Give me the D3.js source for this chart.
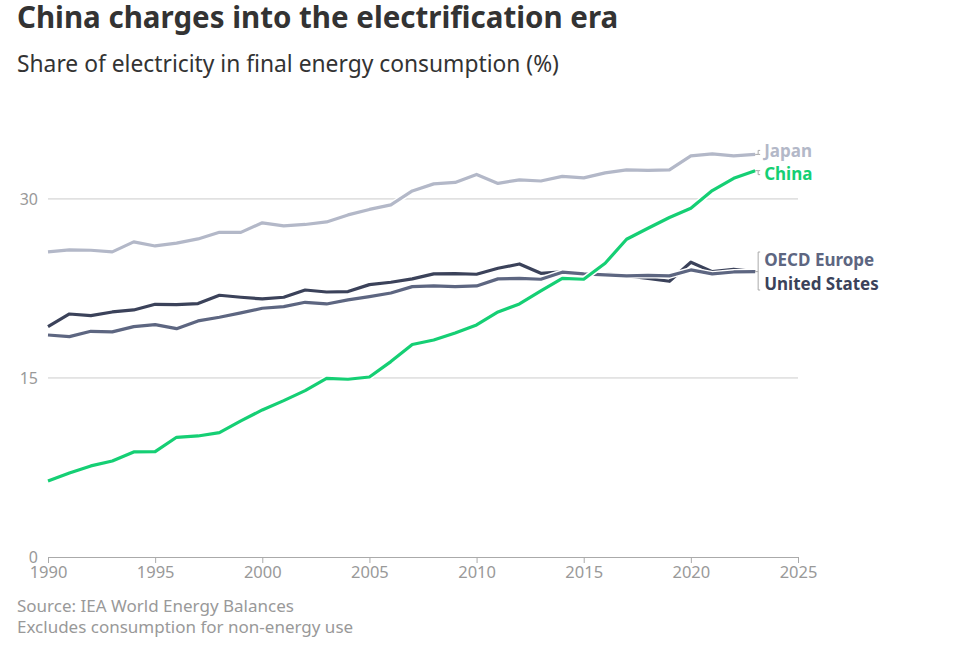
<!DOCTYPE html>
<html>
<head>
<meta charset="utf-8">
<script src="https://cdn.jsdelivr.net/npm/d3@7"></script>
<style>
  body { margin: 0; background: #fff; font-family: "Noto Sans", sans-serif; }
</style>
</head>
<body>
<div id="chart"></div>
<script>
// years on the x axis
var years = d3.range(1990, 2024);

// share of electricity in final energy consumption (%)
var japan = [25.56, 25.73, 25.7, 25.56, 26.4, 26.06, 26.3, 26.65, 27.2, 27.2,
  28.0, 27.74, 27.86, 28.07, 28.66, 29.12, 29.5, 30.67, 31.26, 31.38,
  32.05, 31.3, 31.6, 31.5, 31.89, 31.76, 32.18, 32.43, 32.39, 32.43,
  33.6, 33.77, 33.6, 33.73];
var china = [6.37, 7.04, 7.63, 8.04, 8.8, 8.83, 10.03, 10.14, 10.42, 11.4,
  12.32, 13.1, 13.94, 14.97, 14.89, 15.08, 16.37, 17.8, 18.18, 18.77,
  19.44, 20.53, 21.2, 22.29, 23.34, 23.27, 24.61, 26.62, 27.54, 28.44,
  29.22, 30.7, 31.73, 32.37];
var unitedStates = [19.3, 20.36, 20.22, 20.53, 20.7, 21.17, 21.15, 21.23, 21.93, 21.76,
  21.62, 21.76, 22.37, 22.2, 22.24, 22.82, 23.02, 23.3, 23.72, 23.74,
  23.69, 24.19, 24.55, 23.77, 23.9, 23.76, 23.72, 23.55, 23.35, 23.1,
  24.7, 23.91, 24.11, 23.91];
var oecdEurope = [18.6, 18.46, 18.91, 18.86, 19.3, 19.47, 19.13, 19.78, 20.09, 20.45,
  20.84, 20.98, 21.34, 21.2, 21.54, 21.81, 22.12, 22.65, 22.71, 22.65,
  22.71, 23.3, 23.35, 23.27, 23.86, 23.72, 23.63, 23.55, 23.6, 23.55,
  24.05, 23.72, 23.88, 23.91];

var xTicks = [1990, 1995, 2000, 2005, 2010, 2015, 2020, 2025];
var yTicks = [0, 15, 30];

var series = [
  { name: "Japan", values: japan, color: "#b3b8c8", labelY: 151 },
  { name: "United States", values: unitedStates, color: "#3b425a", labelY: 284 },
  { name: "OECD Europe", values: oecdEurope, color: "#5d6681", labelY: 260 },
  { name: "China", values: china, color: "#15cf74", labelY: 174 }
];

var width = 960, height = 663;
var margin = { top: 110, right: 162, bottom: 106, left: 48 };
var innerW = width - margin.left - margin.right,
    innerH = height - margin.top - margin.bottom;

var svg = d3.select("#chart").append("svg")
  .attr("width", width)
  .attr("height", height);

// title and subtitle
svg.append("text")
  .attr("x", 17).attr("y", 28)
  .style("font-size", "29.5px").style("font-weight", "700").style("fill", "#333")
  .text("China charges into the electrification era");
svg.append("text")
  .attr("x", 17).attr("y", 72)
  .style("font-size", "22.8px").style("fill", "#333")
  .text("Share of electricity in final energy consumption (%)");

var g = svg.append("g")
  .attr("transform", "translate(" + margin.left + "," + margin.top + ")");

var x = d3.scaleLinear().domain([1990, 2025]).range([0, innerW]);
var y = d3.scaleLinear().domain([0, 37.45]).range([innerH, 0]);

// gridlines
g.selectAll(".grid")
  .data(yTicks.filter(function (d) { return d > 0; }))
  .enter().append("line")
  .attr("x1", 0).attr("x2", innerW)
  .attr("y1", function (d) { return y(d); })
  .attr("y2", function (d) { return y(d); })
  .style("stroke", "#cccccc").style("stroke-width", 1);

// y labels
g.selectAll(".ylab")
  .data(yTicks)
  .enter().append("text")
  .attr("x", -10)
  .attr("y", function (d) { return y(d); })
  .attr("dy", "0.35em")
  .attr("text-anchor", "end")
  .style("font-size", "16px").style("fill", "#999")
  .text(function (d) { return d; });

// x axis
var xAxis = g.append("g")
  .attr("transform", "translate(0," + innerH + ")")
  .call(d3.axisBottom(x).tickValues(xTicks).tickFormat(d3.format("d")).tickSize(6).tickPadding(3));
xAxis.select(".domain").style("stroke", "#aaa");
xAxis.selectAll(".tick line").style("stroke", "#aaa");
xAxis.selectAll(".tick text")
  .style("font-size", "16.5px").style("fill", "#999")
  .style("font-family", "Noto Sans, sans-serif");

// lines
var line = d3.line()
  .x(function (d, i) { return x(years[i]); })
  .y(function (d) { return y(d); });

series.forEach(function (s) {
  g.append("path")
    .datum(s.values)
    .attr("d", line)
    .style("fill", "none").style("stroke", "#fff")
    .style("stroke-width", 6).style("stroke-linejoin", "round");
  g.append("path")
    .datum(s.values)
    .attr("d", line)
    .style("fill", "none").style("stroke", s.color)
    .style("stroke-width", 3.2).style("stroke-linejoin", "round");
});

// end labels with small connectors
var lastX = x(years[years.length - 1]);
var bx = lastX + 3;
function connector(yEnd, yTop, yBot) {
  g.append("path")
    .attr("d", "M" + lastX + "," + yEnd + "H" + bx +
      "M" + (bx + 2) + "," + yTop + "H" + bx + "V" + yBot + "H" + (bx + 2))
    .style("fill", "none").style("stroke", "#aaa").style("stroke-width", 1);
}
var jy = y(japan[japan.length - 1]);
connector(jy, jy - 4, jy);
var cy = y(china[china.length - 1]);
connector(cy, cy, cy + 4);
var ey = y(oecdEurope[oecdEurope.length - 1]);
connector(ey, 260 - margin.top - 8, 284 - margin.top + 6);

series.forEach(function (s) {
  g.append("text")
    .attr("x", bx + 6)
    .attr("y", s.labelY - margin.top)
    .attr("dy", "0.35em")
    .style("font-size", "17px").style("font-weight", "700")
    .style("fill", s.color)
    .style("paint-order", "stroke").style("stroke", "#fff").style("stroke-width", 3)
    .text(s.name);
});

// footer
svg.append("text")
  .attr("x", 17).attr("y", 612)
  .style("font-size", "17px").style("fill", "#999")
  .text("Source: IEA World Energy Balances");
svg.append("text")
  .attr("x", 17).attr("y", 633)
  .style("font-size", "17px").style("fill", "#999")
  .text("Excludes consumption for non-energy use");
</script>
</body>
</html>
